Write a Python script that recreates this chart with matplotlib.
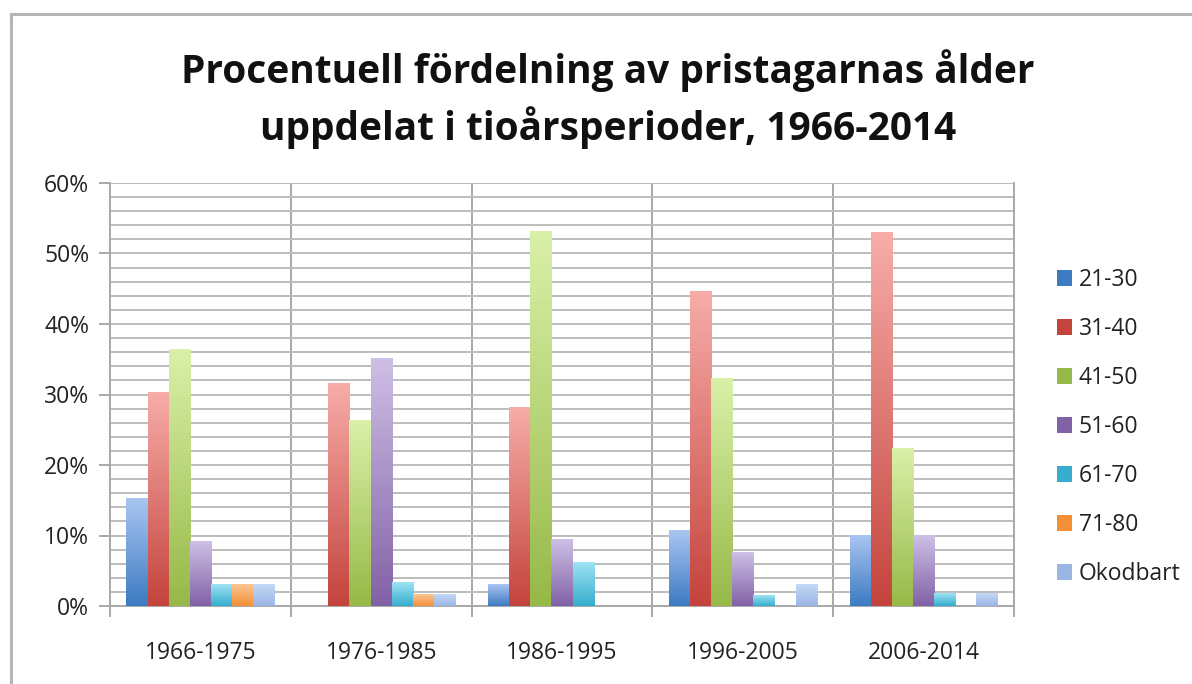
import numpy as np
import matplotlib.pyplot as plt
from matplotlib.colors import LinearSegmentedColormap
from matplotlib.patches import Rectangle, Patch

plt.rcParams['font.family'] = ['Open Sans', 'DejaVu Sans']

periods = ['1966-1975', '1976-1985', '1986-1995', '1996-2005', '2006-2014']
age_groups = ['21-30', '31-40', '41-50', '51-60', '61-70', '71-80', 'Okodbart']

# percent of laureates per age group, one list per period
share = {
    '21-30':    [15.2, 0.0, 3.1, 10.7, 10.0],
    '31-40':    [30.3, 31.6, 28.1, 44.6, 53.0],
    '41-50':    [36.4, 26.3, 53.1, 32.3, 22.4],
    '51-60':    [9.1, 35.1, 9.4, 7.6, 10.0],
    '61-70':    [3.0, 3.4, 6.2, 1.5, 1.8],
    '71-80':    [3.0, 1.7, 0.0, 0.0, 0.0],
    'Okodbart': [3.0, 1.7, 0.0, 3.0, 1.8],
}

# (light top, dark bottom) gradient per series
colors = [
    ('#a9c5f2', '#3d7bc2'),
    ('#f7aca8', '#c4443d'),
    ('#d9f0a8', '#97b948'),
    ('#cdbfe5', '#8262a7'),
    ('#9de3f4', '#36adcd'),
    ('#fcc592', '#f48f38'),
    ('#c5d8f5', '#9ab6e5'),
]

fig = plt.figure(figsize=(11.92, 6.84), dpi=100)
ax = fig.add_axes([110 / 1192, 1 - 606 / 684, 904 / 1192, 423 / 684])

# outer chart frame (left and top edges visible)
fig.patches.append(Rectangle((11 / 1192, -0.1), 1.2, 1 - 14 / 684 + 0.1,
                             transform=fig.transFigure, fill=False,
                             edgecolor='#b5b5b5', linewidth=2.2))

x = np.arange(len(periods))
w = 0.117
grad = np.linspace(1, 0, 100).reshape(-1, 1)
handles = []
for i, (grp, (c_top, c_bot)) in enumerate(zip(age_groups, colors)):
    bars = ax.bar(x + (i - 3) * w, share[grp], width=w, color=c_bot,
                  edgecolor='none', zorder=2)
    cmap = LinearSegmentedColormap.from_list(grp, [c_bot, c_top])
    for rect in bars:
        h = rect.get_height()
        if h <= 0:
            continue
        x0 = rect.get_x()
        ax.imshow(grad, extent=[x0, x0 + rect.get_width(), 0, h], cmap=cmap,
                  vmin=0, vmax=1, aspect='auto', zorder=3, interpolation='bilinear')
    handles.append(Patch(facecolor=c_bot, edgecolor='none', label=grp))

ax.set_xlim(-0.5, len(periods) - 0.5)
ax.set_ylim(0, 60)

ax.set_yticks(np.arange(0, 61, 10))
ax.set_yticks(np.arange(0, 61, 2), minor=True)
ax.set_yticklabels(['{}%'.format(v) for v in range(0, 61, 10)])
ax.set_xticks(x)
ax.set_xticklabels(periods)
ax.set_xticks(np.arange(-0.5, len(periods), 1), minor=True)

ax.grid(axis='y', which='both', color='#bdbdbd', linewidth=1.4, zorder=0)
ax.grid(axis='x', which='minor', color='#a8a8a8', linewidth=1.4, zorder=0)
ax.set_axisbelow(True)

ax.tick_params(axis='y', which='major', length=8, width=1.4, color='#a8a8a8',
               labelsize=16.5, labelcolor='#222222', pad=7)
ax.tick_params(axis='y', which='minor', length=0)
ax.tick_params(axis='x', which='major', length=0, labelsize=16.5,
               labelcolor='#222222', pad=25)
ax.tick_params(axis='x', which='minor', length=8, width=1.4, color='#a8a8a8')
for side in ['left', 'bottom', 'right']:
    ax.spines[side].set_color('#a8a8a8')
    ax.spines[side].set_linewidth(1.4)
ax.spines['top'].set_visible(False)

fig.text(608 / 1192, 1 - 83 / 684, 'Procentuell fördelning av pristagarnas ålder',
         ha='center', va='baseline', fontsize=28, fontweight='bold', color='#111111')
fig.text(608 / 1192, 1 - 140 / 684, 'uppdelat i tioårsperioder, 1966-2014',
         ha='center', va='baseline', fontsize=28, fontweight='bold', color='#111111')

fig.legend(handles=handles, loc='center left', bbox_to_anchor=(1057 / 1192, 1 - 427 / 684),
           frameon=False, fontsize=16.5, handlelength=0.65, handleheight=0.65,
           handletextpad=0.3, labelspacing=1.09, labelcolor='#222222',
           borderpad=0, borderaxespad=0)

plt.savefig('out.png', dpi=100)
